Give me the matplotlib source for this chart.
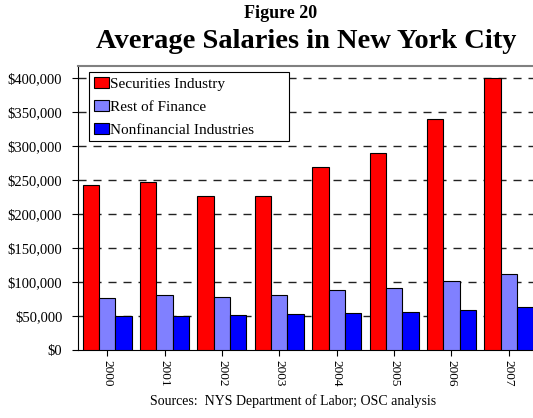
import numpy as np
import matplotlib.pyplot as plt
from matplotlib.ticker import FuncFormatter

plt.rcParams['font.family'] = ['Liberation Serif', 'DejaVu Serif']

# data
years = ['2000', '2001', '2002', '2003', '2004', '2005', '2006', '2007']
securities = [241800, 247300, 226900, 226400, 268700, 290000, 339800, 400000]
rest_finance = [76100, 80600, 78600, 80600, 88000, 90600, 101000, 111500]
nonfinancial = [49300, 49700, 50700, 52200, 54700, 56300, 59200, 62700]

series_names = ['Securities Industry', 'Rest of Finance', 'Nonfinancial Industries']
colors = ['#ff0000', '#8080ff', '#0000ff']

fig = plt.figure(figsize=(5.33, 4.18), dpi=100)
ax = fig.add_axes([78 / 533, 1 - 350 / 418, 460 / 533, (350 - 65.5) / 418])

x = np.arange(len(years))
w = 0.285
for i, (vals, name, c) in enumerate(zip([securities, rest_finance, nonfinancial], series_names, colors)):
    ax.bar(x + (i - 1) * w, vals, w, color=c, edgecolor='black', linewidth=0.8,
           label=name, zorder=3)

ax.set_xlim(-0.51, 7.51)
ax.set_ylim(0, 418000)
ax.set_yticks(np.arange(0, 400001, 50000))
ax.yaxis.set_major_formatter(FuncFormatter(lambda v, p: '${:,.0f}'.format(v)))
ax.set_xticks(x)
ax.set_xticklabels(years, rotation=270, fontsize=9.5)
ax.tick_params(axis='y', labelsize=10.5, length=4.3, width=0.8, pad=7)
ax.tick_params(axis='x', length=4.3, width=0.8, pad=3)

# dashed gridlines behind bars
for v in np.arange(50000, 400001, 50000):
    ax.axhline(v, color='#222222', linewidth=1, linestyle=(0, (5.8, 5)), zorder=1)

ax.spines['right'].set_visible(False)
ax.spines['top'].set_color('#808080')
ax.spines['top'].set_linewidth(1.5)
ax.spines['left'].set_linewidth(0.8)
ax.spines['bottom'].set_linewidth(0.8)

# legend box: 89..289 px wide, top at 72 px
lx0 = (89 - 78) / 460
lx1 = (289 - 78) / 460
ltop = (350 - 72) / (350 - 65.5)
leg = ax.legend(loc='upper left', bbox_to_anchor=(lx0, ltop - 0.3, lx1 - lx0, 0.3),
                mode='expand', fontsize=11,
                frameon=True, fancybox=False, framealpha=1, edgecolor='black',
                handlelength=1.0, handleheight=0.75, handletextpad=0.1,
                labelspacing=0.6, borderpad=0.3, borderaxespad=0)
leg.get_frame().set_linewidth(0.8)
leg.set_zorder(5)

fig.text(281 / 533, 1 - 13 / 418, 'Figure 20', ha='center', va='center',
         fontsize=13, fontweight='bold')
fig.text(306 / 533, 1 - 41 / 418, 'Average Salaries in New York City', ha='center',
         va='center', fontsize=20.5, fontweight='bold')
fig.text(293 / 533, 1 - 401 / 418, 'Sources:  NYS Department of Labor; OSC analysis',
         ha='center', va='center', fontsize=10)

fig.savefig('out.png', dpi=100)
